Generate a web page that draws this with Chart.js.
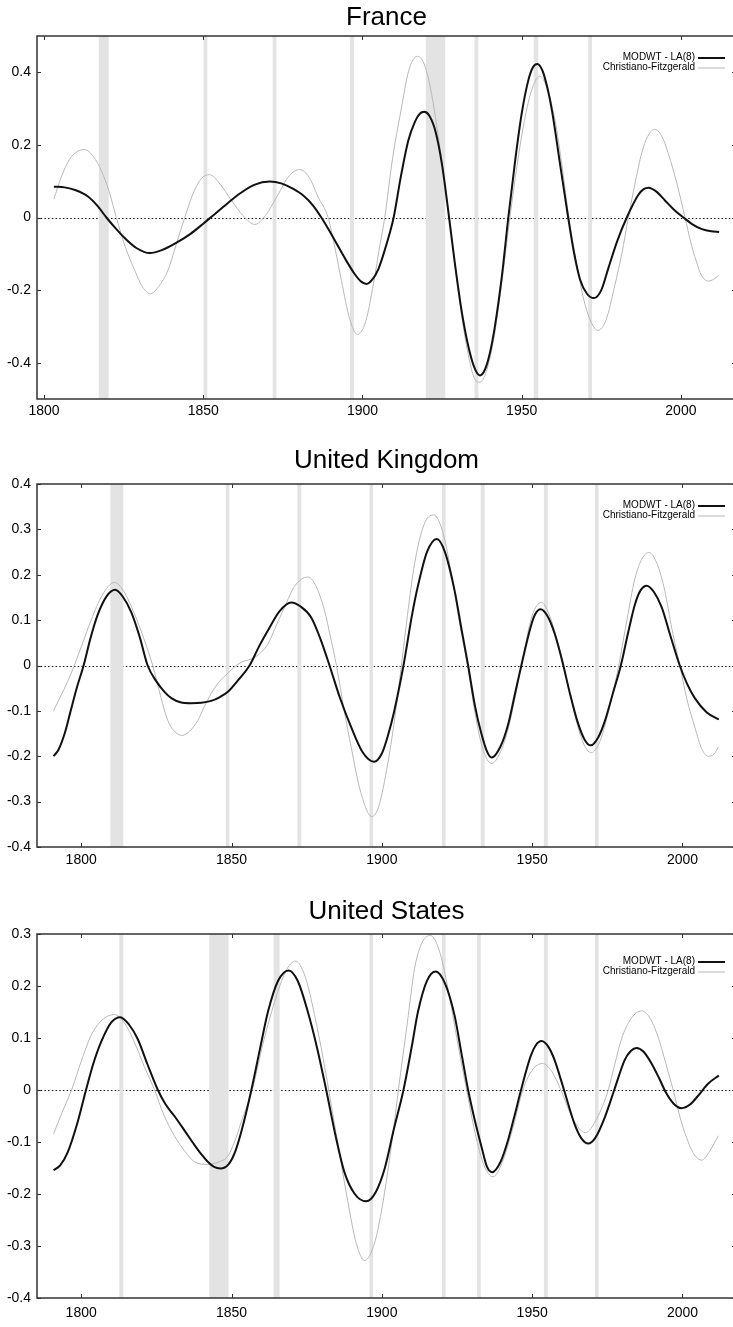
<!DOCTYPE html>
<html><head><meta charset="utf-8">
<script src="https://cdn.jsdelivr.net/npm/chart.js@4/dist/chart.umd.min.js"></script>
<style>
html,body{margin:0;padding:0;background:#fff;overflow:hidden;width:733px;height:1327px;position:relative}
.panel{position:absolute;left:0}
canvas{display:block}
</style></head><body>
<div class="panel" style="top:0px"><canvas id="c1" width="740" height="430"></canvas></div>
<div class="panel" style="top:430px"><canvas id="c2" width="740" height="450"></canvas></div>
<div class="panel" style="top:880px"><canvas id="c3" width="740" height="447"></canvas></div>
<script>
// ---------------- DATA ----------------
const seriesLabels = ['MODWT - LA(8)', 'Christiano-Fitzgerald'];
const xTickValues = [1800, 1850, 1900, 1950, 2000];

// France
const franceTitle = 'France';
const franceYTicks = [-0.4, -0.2, 0, 0.2, 0.4];
const franceModwtYears = [1803.1,1806.5,1810,1813.8,1816.8,1819.6,1822.5,1825.5,1829,1833.2,1837,1841.5,1846,1850,1853,1857.5,1861.5,1866,1870.9,1874.5,1878,1881.5,1884.5,1887.1,1890.5,1894,1897.5,1899.5,1901.3,1903,1905,1907,1908.5,1909.8,1912,1914.4,1916.5,1918,1919.4,1921,1923,1925,1927.2,1929,1931.1,1933,1935,1936.9,1938.5,1940,1941.6,1943.8,1945.8,1948,1950,1952,1953.5,1954.9,1956.5,1958,1959.5,1962,1964.6,1966.5,1968.3,1970.5,1972.7,1975,1977.2,1980,1983,1986.6,1988.3,1989.8,1992.5,1995,1998,2000.8,2003.5,2006.6,2009.5,2012];
const franceModwt = [0.085,0.083,0.075,0.058,0.032,0.0,-0.03,-0.058,-0.084,-0.098,-0.090,-0.070,-0.045,-0.017,0.005,0.038,0.066,0.09,0.099,0.094,0.080,0.060,0.033,0.0,-0.05,-0.105,-0.155,-0.176,-0.183,-0.172,-0.142,-0.09,-0.045,0.0,0.11,0.212,0.264,0.286,0.291,0.28,0.235,0.145,0.0,-0.125,-0.255,-0.345,-0.41,-0.435,-0.418,-0.374,-0.299,-0.16,0.0,0.16,0.286,0.375,0.413,0.423,0.405,0.36,0.295,0.15,0.0,-0.1,-0.17,-0.21,-0.222,-0.2,-0.14,-0.065,0.0,0.062,0.078,0.082,0.07,0.047,0.02,0.0,-0.018,-0.032,-0.038,-0.040];
const franceCfYears = [1803.1,1805.4,1808,1810.5,1812.8,1815.5,1818,1820.5,1822.7,1825.5,1828.5,1831,1833.5,1836,1838.9,1841.5,1844.2,1847,1849.5,1852,1855,1858.9,1862.5,1866.2,1869.5,1873.3,1877,1880.3,1883.3,1886.1,1889.2,1891.5,1893.4,1896,1898.4,1901,1903.9,1905.5,1907,1909.5,1912,1914.5,1917.3,1919.5,1921.7,1924.9,1927.3,1929,1931.1,1933.5,1935,1936.6,1938.2,1940,1941.6,1943.9,1946.3,1948.5,1950.5,1953,1955.7,1958,1960.5,1962.7,1964.8,1967,1969.5,1971.5,1973.9,1976.5,1979.3,1981.5,1983.5,1985.5,1987.7,1989.5,1991.7,1994,1996.1,1998.7,2001.3,2003,2004.8,2006.5,2008.6,2010.3,2011.8];
const franceCf = [0.051,0.111,0.16,0.182,0.187,0.168,0.129,0.07,0.0,-0.08,-0.146,-0.192,-0.210,-0.19,-0.146,-0.075,0.0,0.07,0.108,0.118,0.095,0.047,0.005,-0.019,0.005,0.06,0.115,0.132,0.11,0.056,0.0,-0.09,-0.174,-0.28,-0.322,-0.287,-0.16,-0.075,0.0,0.166,0.29,0.404,0.444,0.42,0.341,0.155,0.0,-0.127,-0.268,-0.39,-0.44,-0.454,-0.44,-0.388,-0.316,-0.17,0.0,0.14,0.25,0.347,0.389,0.355,0.267,0.14,0.0,-0.115,-0.226,-0.282,-0.311,-0.282,-0.185,-0.097,0.0,0.09,0.178,0.222,0.243,0.224,0.175,0.095,0.0,-0.065,-0.12,-0.16,-0.175,-0.17,-0.160];
const franceBands = [[1817.2,1820.3],[1850.1,1851.3],[1871.8,1873.0],[1896.1,1897.3],[1919.9,1926.0],[1935.2,1936.4],[1953.8,1955.2],[1970.9,1972.1]];

// United Kingdom
const ukTitle = 'United Kingdom';
const ukYTicks = [-0.4, -0.3, -0.2, -0.1, 0, 0.1, 0.2, 0.3, 0.4];
const ukModwtYears = [1790.8,1792.5,1794.5,1796.5,1798.5,1800.8,1803,1805.5,1808.5,1811.3,1813.8,1816.6,1819.5,1822.1,1825,1827.7,1830,1833,1836.6,1840,1843.2,1846,1848.8,1852.5,1856,1859,1862.1,1866,1869.9,1873,1876.5,1879.5,1882.6,1886,1889.8,1893.5,1897.4,1900,1902,1904,1907.2,1910,1912,1915,1918.3,1921,1924.2,1926.5,1928.7,1931,1933.1,1935,1936.5,1939.5,1942,1944.2,1946.4,1949.5,1951,1952.8,1955,1957.5,1960,1962.5,1965,1967.5,1969.5,1972,1974.2,1977,1979.5,1982,1984.2,1986,1988.1,1990.5,1993.1,1996,1999.1,2001.5,2004.1,2008,2012.1];
const ukModwt = [-0.200,-0.185,-0.15,-0.10,-0.05,0.0,0.058,0.112,0.153,0.167,0.152,0.118,0.062,0.0,-0.035,-0.058,-0.072,-0.081,-0.083,-0.082,-0.078,-0.07,-0.058,-0.03,0.0,0.04,0.077,0.12,0.139,0.13,0.106,0.06,0.0,-0.07,-0.136,-0.19,-0.212,-0.194,-0.155,-0.104,0.0,0.11,0.175,0.25,0.279,0.25,0.165,0.08,0.0,-0.09,-0.150,-0.19,-0.203,-0.178,-0.13,-0.065,0.0,0.085,0.113,0.124,0.11,0.07,0.01,-0.06,-0.122,-0.164,-0.176,-0.158,-0.122,-0.058,0.0,0.075,0.135,0.165,0.176,0.162,0.128,0.065,0.0,-0.04,-0.072,-0.103,-0.119];
const ukCfYears = [1790.8,1793,1795.5,1797.7,1800.5,1803.3,1807,1811.1,1814,1817.7,1820.8,1823.8,1826.5,1828.8,1831,1833.6,1836,1838.8,1841,1843.2,1846,1848.8,1851,1853.2,1855.5,1857.7,1860,1862.1,1865,1867.6,1871,1875.4,1878,1880.9,1883,1884.9,1887.5,1889.8,1893,1896.7,1899,1902,1904,1906.5,1908.5,1910.9,1914,1917.2,1920,1923.1,1926,1928.5,1931,1933.5,1936.5,1939.5,1942,1944.2,1946.4,1950,1953.1,1955.5,1957.5,1960,1962.5,1965,1967.5,1969.7,1972.5,1974.5,1977,1978.8,1981.5,1984.2,1986.5,1988.9,1991.5,1994.1,1996.5,1999.1,2001.5,2004.1,2006.5,2008.6,2010.5,2011.9];
const ukCf = [-0.10,-0.07,-0.035,0.0,0.05,0.10,0.155,0.183,0.165,0.114,0.06,0.0,-0.07,-0.121,-0.145,-0.154,-0.145,-0.121,-0.09,-0.062,-0.035,-0.017,-0.003,0.007,0.012,0.018,0.03,0.047,0.09,0.128,0.175,0.195,0.176,0.122,0.06,0.0,-0.1,-0.18,-0.28,-0.333,-0.31,-0.215,-0.13,0.0,0.11,0.225,0.31,0.332,0.3,0.205,0.088,0.0,-0.105,-0.182,-0.216,-0.19,-0.14,-0.075,0.0,0.11,0.139,0.115,0.075,0.015,-0.06,-0.13,-0.178,-0.192,-0.168,-0.125,-0.055,0.0,0.1,0.192,0.235,0.249,0.225,0.165,0.08,0.0,-0.075,-0.136,-0.185,-0.200,-0.195,-0.180];
const ukBands = [[1809.7,1814.0],[1848.1,1849.3],[1871.9,1873.2],[1895.9,1897.1],[1920.0,1921.2],[1932.9,1934.2],[1953.9,1955.2],[1970.9,1972.1]];

// United States
const usTitle = 'United States';
const usYTicks = [-0.4, -0.3, -0.2, -0.1, 0, 0.1, 0.2, 0.3];
const usModwtYears = [1790.8,1793,1795.5,1798.8,1801.6,1804,1806.6,1810,1813,1816,1818.8,1822,1825.5,1828,1831,1834.5,1837.7,1840,1842.1,1844.2,1846.3,1849,1851,1853.5,1856.6,1859.5,1862.1,1865.5,1869,1872,1875.4,1878.5,1881.5,1884.5,1887.6,1891,1894.8,1898,1901,1904,1907.2,1910,1912,1915,1917.9,1921,1924.2,1926.5,1928.7,1931,1933.1,1935,1936.7,1939.5,1942,1944.2,1946.3,1949.5,1951.2,1953.1,1955.5,1957.5,1960.6,1964.2,1966.5,1968.6,1971,1974.2,1977.3,1980.8,1982.8,1984.7,1987,1989.7,1992.2,1994.5,1997,1999.6,2002.5,2005.2,2008.5,2012.1];
const usModwt = [-0.154,-0.145,-0.12,-0.062,0.0,0.05,0.092,0.13,0.140,0.125,0.098,0.05,0.0,-0.027,-0.05,-0.079,-0.106,-0.124,-0.138,-0.148,-0.151,-0.143,-0.122,-0.075,0.0,0.08,0.150,0.21,0.230,0.21,0.150,0.08,0.0,-0.085,-0.159,-0.20,-0.214,-0.196,-0.15,-0.075,0.0,0.085,0.150,0.21,0.228,0.205,0.143,0.07,0.0,-0.06,-0.108,-0.148,-0.158,-0.138,-0.096,-0.048,0.0,0.065,0.086,0.094,0.082,0.057,0.0,-0.067,-0.094,-0.103,-0.092,-0.052,0.0,0.058,0.075,0.081,0.074,0.051,0.023,-0.005,-0.026,-0.035,-0.028,-0.011,0.012,0.028];
const usCfYears = [1790.8,1793.5,1796.8,1800,1803.3,1807,1811.1,1814.5,1817.7,1821,1824.4,1827.5,1831,1834.5,1837.7,1842.1,1845.5,1848.8,1851,1853.2,1856.9,1860.5,1864.3,1868,1871.3,1874.5,1877.6,1880.5,1883.2,1886,1888.7,1891.5,1894.3,1897.6,1899.8,1902,1904,1905.5,1908.5,1910.9,1913.5,1916.2,1919,1922,1925.3,1928.2,1931,1934,1937,1940,1943.5,1946.9,1950,1953.4,1956.5,1959.7,1963.5,1967.7,1971.5,1975.3,1977.5,1979.7,1983,1986.4,1989,1991.9,1994.5,1996.9,1999.5,2001.9,2004,2006.4,2009,2011.9];
const usCf = [-0.085,-0.045,0.0,0.055,0.105,0.135,0.145,0.128,0.092,0.045,0.0,-0.048,-0.088,-0.118,-0.138,-0.143,-0.139,-0.127,-0.1,-0.062,0.0,0.09,0.169,0.228,0.248,0.218,0.145,0.06,-0.03,-0.125,-0.215,-0.295,-0.328,-0.294,-0.235,-0.156,-0.071,0.0,0.13,0.234,0.285,0.297,0.27,0.195,0.088,0.0,-0.082,-0.145,-0.167,-0.14,-0.075,0.0,0.038,0.051,0.036,-0.002,-0.055,-0.082,-0.055,0.0,0.05,0.098,0.138,0.152,0.14,0.102,0.05,0.0,-0.059,-0.1,-0.125,-0.135,-0.118,-0.088];
const usBands = [[1812.7,1814.0],[1842.6,1849.0],[1864.0,1866.0],[1895.9,1897.1],[1920.0,1921.2],[1931.7,1932.9],[1953.9,1955.2],[1970.9,1972.1]];

// ---------------- RENDERING ----------------
const FONT = '"Liberation Sans", Arial, Helvetica, sans-serif';
function pts(xs, ys) { return xs.map((x, i) => ({x: x, y: ys[i]})); }

const decorPlugin = {
  id: 'decor',
  beforeDatasetsDraw(chart, args, o) {
    const ctx = chart.ctx, a = chart.chartArea;
    const xs = chart.scales.x, ys = chart.scales.y;
    ctx.save();
    const y0 = Math.round(ys.getPixelForValue(0)) + 0.5;
    ctx.strokeStyle = '#111';
    ctx.lineWidth = 1;
    ctx.setLineDash([1.5, 2.2]);
    ctx.beginPath(); ctx.moveTo(a.left, y0); ctx.lineTo(a.right, y0); ctx.stroke();
    ctx.setLineDash([]);
    ctx.fillStyle = '#e3e3e3';
    o.bands.forEach(b => {
      const x1 = xs.getPixelForValue(b[0]), x2 = xs.getPixelForValue(b[1]);
      ctx.fillRect(x1, a.top, x2 - x1, a.bottom - a.top);
    });
    ctx.restore();
  },
  afterDatasetsDraw(chart, args, o) {
    const ctx = chart.ctx, a = chart.chartArea;
    const xs = chart.scales.x, ys = chart.scales.y;
    ctx.save();
    ctx.strokeStyle = '#333';
    ctx.lineWidth = 1.5;
    ctx.strokeRect(a.left, a.top, a.right - a.left, a.bottom - a.top);
    ctx.lineWidth = 1;
    const tl = 4;
    ctx.beginPath();
    xs.ticks.forEach(t => {
      const x = Math.round(xs.getPixelForValue(t.value)) + 0.5;
      ctx.moveTo(x, a.bottom); ctx.lineTo(x, a.bottom - tl);
      ctx.moveTo(x, a.top); ctx.lineTo(x, a.top + tl);
    });
    ys.ticks.forEach(t => {
      const y = Math.round(ys.getPixelForValue(t.value)) + 0.5;
      ctx.moveTo(a.left, y); ctx.lineTo(a.left + tl, y);
      ctx.moveTo(a.right, y); ctx.lineTo(a.right - tl, y);
    });
    ctx.stroke();
    ctx.font = '10px ' + FONT;
    ctx.textAlign = 'right';
    ctx.textBaseline = 'middle';
    chart.data.datasets.forEach((d, i) => {
      const y = a.top + o.legendTop + i * o.legendGap;
      ctx.fillStyle = '#000';
      ctx.fillText(d.label, a.right - 41, y);
      ctx.strokeStyle = d.borderColor;
      ctx.lineWidth = d.borderWidth;
      ctx.beginPath(); ctx.moveTo(a.right - 38, y + 1); ctx.lineTo(a.right - 11, y + 1); ctx.stroke();
    });
    ctx.font = '26px ' + FONT;
    ctx.textAlign = 'center';
    ctx.fillStyle = '#000';
    ctx.fillText(o.title, (a.left + a.right) / 2, o.titleY);
    ctx.restore();
  }
};

function makePanel(id, cfg) {
  const canvas = document.getElementById(id);
  const H = canvas.height;
  new Chart(canvas, {
    type: 'line',
    data: {
      datasets: [
        { label: seriesLabels[0], data: pts(cfg.modYears, cfg.mod), borderColor: '#111', borderWidth: 2,
          pointRadius: 0, cubicInterpolationMode: 'monotone', fill: false },
        { label: seriesLabels[1], data: pts(cfg.cfYears, cfg.cf), borderColor: '#b8b8b8', borderWidth: 1,
          pointRadius: 0, cubicInterpolationMode: 'monotone', fill: false }
      ]
    },
    options: {
      responsive: false, animation: false, devicePixelRatio: 1,
      layout: { padding: { top: cfg.top, left: 0, right: 4, bottom: 0 } },
      plugins: {
        legend: { display: false }, tooltip: { enabled: false }, title: { display: false },
        decor: { bands: cfg.bands, title: cfg.title, titleY: cfg.titleY, legendTop: cfg.legendTop, legendGap: cfg.legendGap }
      },
      scales: {
        x: {
          type: 'linear', min: cfg.xmin, max: cfg.xmax,
          grid: { display: false, drawTicks: false }, border: { display: false },
          afterBuildTicks: s => { s.ticks = xTickValues.map(v => ({ value: v })); },
          afterFit: s => { s.height = H - cfg.bottom; },
          ticks: { padding: cfg.xPad, color: '#000', font: { size: 14, family: FONT }, callback: v => String(v), maxRotation: 0, autoSkip: false }
        },
        y: {
          type: 'linear', min: cfg.ymin, max: cfg.ymax,
          grid: { display: false, drawTicks: false }, border: { display: false },
          afterBuildTicks: s => { s.ticks = cfg.yTicks.map(v => ({ value: v })); },
          afterFit: s => { s.width = 37; },
          ticks: { padding: 6, color: '#000', font: { size: 14, family: FONT }, callback: v => String(v), autoSkip: false }
        }
      }
    },
    plugins: [decorPlugin]
  });
}

makePanel('c1', { title: franceTitle, titleY: 18, top: 36, bottom: 399, xPad: 4,
  xmin: 1797.8, xmax: 2017.3, ymin: -0.5, ymax: 0.5, yTicks: franceYTicks,
  modYears: franceModwtYears, mod: franceModwt, cfYears: franceCfYears, cf: franceCf,
  bands: franceBands, legendTop: 21, legendGap: 10 });
makePanel('c2', { title: ukTitle, titleY: 31, top: 54, bottom: 417, xPad: 5,
  xmin: 1785.3, xmax: 2017.8, ymin: -0.4, ymax: 0.4, yTicks: ukYTicks,
  modYears: ukModwtYears, mod: ukModwt, cfYears: ukCfYears, cf: ukCf,
  bands: ukBands, legendTop: 21, legendGap: 10 });
makePanel('c3', { title: usTitle, titleY: 32, top: 54, bottom: 418, xPad: 7,
  xmin: 1785.3, xmax: 2017.8, ymin: -0.4, ymax: 0.3, yTicks: usYTicks,
  modYears: usModwtYears, mod: usModwt, cfYears: usCfYears, cf: usCf,
  bands: usBands, legendTop: 27, legendGap: 10 });
</script>
</body></html>
